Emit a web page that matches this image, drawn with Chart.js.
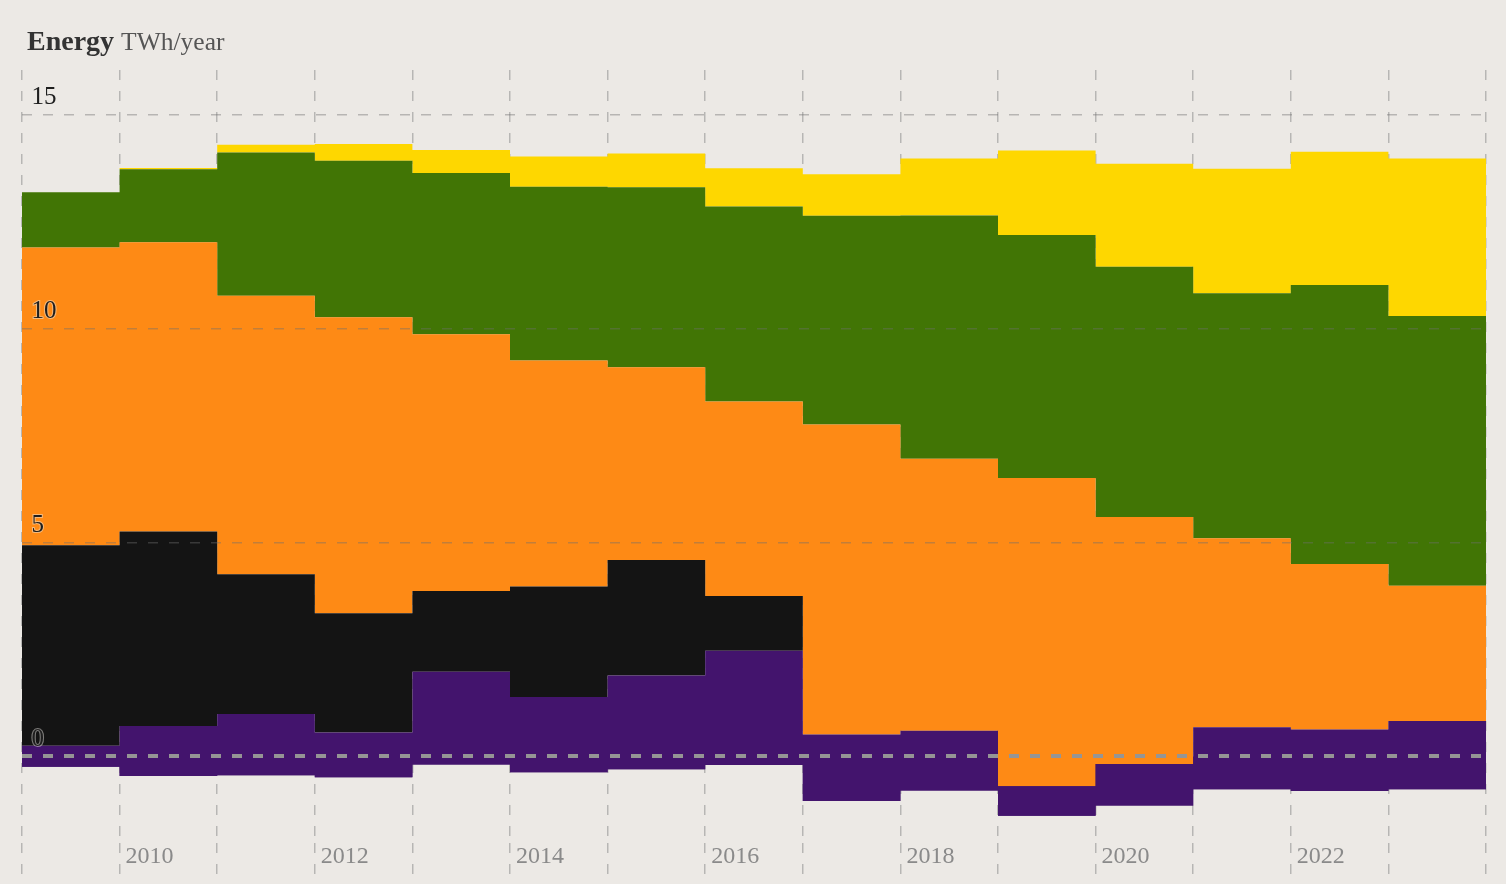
<!DOCTYPE html>
<html>
<head>
<meta charset="utf-8">
<script src="https://cdn.jsdelivr.net/npm/chart.js@4/dist/chart.umd.min.js"></script>
<style>
html,body{margin:0;padding:0;background:#ece9e5;}
#wrap{position:relative;width:1506px;height:884px;overflow:hidden;}
canvas{position:absolute;left:0;top:0;}
#title{position:absolute;left:27px;top:25px;line-height:32px;font-family:"Liberation Serif",serif;white-space:nowrap;}
#title b{font-size:28px;color:#333;}
#title span{font-size:25.5px;color:#555;margin-left:3px;}
</style>
</head>
<body>
<div id="wrap">
<canvas id="c" width="1506" height="884"></canvas>
<div id="title"><b>Energy</b> <span>TWh/year</span></div>
</div>
<script>
// ---- data (TWh/year) ----
const years      = [2009, 2010, 2011, 2012, 2013, 2014, 2015, 2016, 2017, 2018, 2019, 2020, 2021, 2022, 2023];
const exportsTWh = [-0.24, -0.46, -0.44, -0.49, -0.19, -0.37, -0.30, -0.20, -1.04, -0.80, -1.39, -1.15, -0.77, -0.81, -0.77];
const importsTWh = [0.49, 1.17, 1.43, 1.05, 2.17, 1.76, 2.19, 2.67, 1.55, 1.40, 0.69, 0.97, 1.45, 1.44, 1.60];
const coalTWh    = [4.69, 4.55, 3.27, 2.79, 1.89, 2.58, 2.70, 1.28, 0, 0, 0, 0, 0, 0, 0];
const gasTWh     = [6.96, 6.76, 6.51, 6.92, 6.00, 5.29, 4.51, 4.55, 7.25, 6.36, 7.21, 5.78, 4.42, 3.87, 3.16];
const windTWh    = [1.29, 1.71, 3.35, 3.66, 3.77, 4.06, 4.21, 4.56, 4.88, 5.69, 5.68, 5.85, 5.73, 6.52, 6.31];
const solarTWh   = [0, 0.03, 0.18, 0.39, 0.54, 0.71, 0.79, 0.89, 0.97, 1.33, 1.98, 2.41, 2.91, 3.12, 3.68];
const yTicks     = [0, 5, 10, 15];
const xLabels    = [2010, 2012, 2014, 2016, 2018, 2020, 2022];

const seriesDefs = [
  {label: 'Exports', values: exportsTWh, color: '#43146d'},
  {label: 'Imports', values: importsTWh, color: '#43146d'},
  {label: 'Coal',    values: coalTWh,    color: '#141414'},
  {label: 'Gas',     values: gasTWh,     color: '#fe8a15'},
  {label: 'Wind',    values: windTWh,    color: '#417505'},
  {label: 'Solar',   values: solarTWh,   color: '#fed700'}
];

// year boundaries (each year spans [year, year+1])
const lastYear = years[years.length - 1];
const boundaries = years.concat([lastYear + 1]);

// cumulative stack (sequential, so a negative first series shifts the stack)
const running = years.map(() => 0);
const datasets = seriesDefs.map((s, k) => {
  const pts = years.map((yr, i) => { running[i] += s.values[i]; return {x: yr, y: running[i]}; });
  pts.push({x: lastYear + 1, y: pts[pts.length - 1].y});
  return {
    label: s.label,
    data: pts,
    stepped: true,
    fill: k === 0 ? 'origin' : '-1',
    backgroundColor: s.color,
    borderColor: 'rgba(0,0,0,0)',
    borderWidth: 0,
    pointRadius: 0,
    order: k === 0 ? 1 : 0
  };
});

const serif = '"Liberation Serif", serif';

new Chart(document.getElementById('c'), {
  type: 'line',
  data: {datasets},
  options: {
    responsive: false,
    animation: false,
    layout: {padding: {top: 70, left: 22, right: 20, bottom: 0}},
    plugins: {legend: {display: false}, tooltip: {enabled: false}},
    scales: {
      x: {
        type: 'linear',
        min: years[0],
        max: lastYear + 1,
        afterBuildTicks: s => { s.ticks = boundaries.map(v => ({value: v})); },
        afterFit: s => { s.height = 41; },
        grid: {
          z: -1,
          color: 'rgba(120,120,120,0.45)',
          lineWidth: 1.5,
          drawTicks: true,
          tickLength: 35,
          tickColor: 'rgba(120,120,120,0.45)',
          tickWidth: 1.5,
          tickBorderDash: [10, 11]
        },
        border: {display: false, dash: [10, 11]},
        ticks: {
          autoSkip: false,
          maxRotation: 0,
          align: 'start',
          labelOffset: 6,
          padding: -36,
          color: '#8a8a8a',
          font: {family: serif, size: 24},
          callback: v => xLabels.includes(v) ? String(v) : ''
        }
      },
      y: {
        type: 'linear',
        min: -2.025,
        max: 16.05,
        afterBuildTicks: s => { s.ticks = yTicks.map(v => ({value: v})); },
        afterFit: s => { s.width = 0; },
        grid: {
          z: 1,
          drawTicks: false,
          color: ctx => ctx.tick && ctx.tick.value === 0 ? '#959595' : 'rgba(110,110,110,0.42)',
          lineWidth: ctx => ctx.tick && ctx.tick.value === 0 ? 4 : 1.5
        },
        border: {display: false, dash: [10, 11]},
        ticks: {
          z: 2,
          mirror: true,
          padding: 9.5,
          labelOffset: -17,
          color: '#1e1e1e',
          textStrokeColor: 'rgba(236,233,229,0.5)',
          textStrokeWidth: 2,
          font: {family: serif, size: 25},
          callback: v => String(v)
        }
      }
    }
  }
});
</script>
</body>
</html>
